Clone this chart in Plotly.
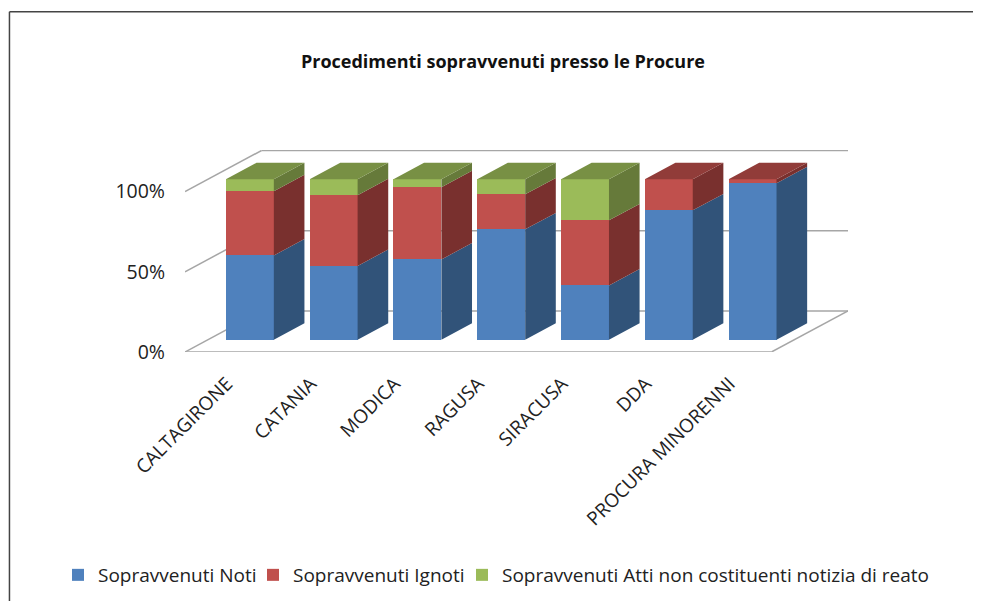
import plotly.graph_objects as go

categories = ["CALTAGIRONE", "CATANIA", "MODICA", "RAGUSA", "SIRACUSA", "DDA", "PROCURA MINORENNI"]
noti = [52.5, 46.0, 50.0, 68.8, 33.8, 80.6, 97.5]
ignoti = [40.0, 44.0, 45.0, 21.8, 40.6, 19.4, 2.5]
atti = [7.5, 10.0, 5.0, 9.4, 25.6, 0.0, 0.0]
series_names = ["Sopravvenuti Noti", "Sopravvenuti Ignoti", "Sopravvenuti Atti non costituenti notizia di reato"]
y_ticks = [0, 50, 100]
y_labels = ["0%", "50%", "100%"]
title = "Procedimenti sopravvenuti presso le Procure"

# The page body adds 8 px on the top and left, so the figure is placed 8 px in.
OFF = 8
W, H = 981 - OFF, 601 - OFF
L, R, T, B = 184.7 - OFF, 848.3 - OFF, 150.0 - OFF, 351.7 - OFF
BAND = 83.86
UNIT = 1.602
DX = 76.6 / BAND
DY = 41.0 / UNIT
T0, T1 = 0.30, 0.70
BW = 48.0 / BAND
FONT = "Open Sans"
TXT = "#222222"
GRID = "#a6a6a6"

front = ["#4F81BD", "#C0504D", "#9BBB59"]
side = ["#315379", "#79302E", "#667A3A"]
topc = ["#3E6797", "#913C39", "#789044"]

series = [noti, ignoti, atti]
legends = ["legend", "legend2", "legend3"]
xmin = -0.5
xmax = xmin + (R - L) / BAND
ymax = (B - T) / UNIT


def proj(x, y, t):
    return x + t * DX, y + t * DY


fig = go.Figure()
cum = [0.0] * len(categories)
for s, vals in enumerate(series):
    bases = [c + T0 * DY for c in cum]
    xf = [i + T0 * DX for i in range(len(categories))]
    fig.add_trace(go.Bar(x=xf, y=vals, base=bases, width=BW, name=series_names[s], legend=legends[s],
                         marker=dict(color=front[s], line=dict(width=0)), hoverinfo="skip"))
    sx, sy = [], []
    for i, v in enumerate(vals):
        if v <= 0:
            continue
        xr = i + BW / 2
        pts = [proj(xr, cum[i], T0), proj(xr, cum[i], T1), proj(xr, cum[i] + v, T1), proj(xr, cum[i] + v, T0)]
        sx += [p[0] for p in pts] + [pts[0][0], None]
        sy += [p[1] for p in pts] + [pts[0][1], None]
    fig.add_trace(go.Scatter(x=sx, y=sy, mode="lines", fill="toself", fillcolor=side[s],
                             line=dict(width=0, color=side[s]), showlegend=False, hoverinfo="skip"))
    cum = [c + v for c, v in zip(cum, vals)]

# top caps: coloured by the last non-empty series in each bar
for s, vals in enumerate(series):
    tx, ty = [], []
    for i in range(len(categories)):
        if vals[i] > 0 and all(series[k][i] <= 0 for k in range(s + 1, len(series))):
            top = cum[i]
            xl, xr = i - BW / 2, i + BW / 2
            pts = [proj(xl, top, T0), proj(xr, top, T0), proj(xr, top, T1), proj(xl, top, T1)]
            tx += [p[0] for p in pts] + [pts[0][0], None]
            ty += [p[1] for p in pts] + [pts[0][1], None]
    if tx:
        fig.add_trace(go.Scatter(x=tx, y=ty, mode="lines", fill="toself", fillcolor=topc[s],
                                 line=dict(width=0, color=topc[s]), showlegend=False, hoverinfo="skip"))

shapes = []
x_front_r = xmin + len(categories)
for v in y_ticks:
    x0, y0 = proj(xmin, v, 1)
    x1, y1 = proj(x_front_r, v, 1)
    shapes.append(dict(type="line", x0=x0, y0=y0, x1=x1, y1=y1))
    shapes.append(dict(type="line", x0=xmin, y0=v, x1=x0, y1=y0))
# floor front and right edges
x1, y1 = proj(x_front_r, 0, 1)
shapes.append(dict(type="line", x0=xmin, y0=0, x1=x_front_r, y1=0))
shapes.append(dict(type="line", x0=x_front_r, y0=0, x1=x1, y1=y1))
for sh in shapes:
    sh.update(xref="x", yref="y", layer="below", line=dict(color=GRID, width=1.5))


# chart frame: only its top and left sides fall inside the picture
def px(v):
    return (v - OFF - L) / (R - L)


def py(v):
    return (B - (v - OFF)) / (B - T)


for x0, y0, x1, y1 in [(9, 12, 981, 12), (9, 12, 9, 601)]:
    shapes.append(dict(type="line", xref="paper", yref="paper", x0=px(x0), x1=px(x1), y0=py(y0), y1=py(y1),
                       line=dict(color="#444444", width=1.5), layer="below"))

leg_font = dict(family=FONT, size=19, color=TXT)
leg_common = dict(orientation="h", xanchor="left", yanchor="middle", xref="container", yref="container",
                  font=leg_font, bgcolor="rgba(0,0,0,0)")
leg_y = 1 - (575 - OFF) / H
LEG_TEXT_X = [98, 293, 502]


def leg_x(text_x):
    return (text_x - OFF - 40) / W


fig.update_layout(
    width=W, height=H, autosize=False,
    margin=dict(l=L, r=W - R, t=T, b=H - B, pad=0),
    paper_bgcolor="white", plot_bgcolor="white",
    barmode="overlay", bargap=0,
    shapes=shapes,
    showlegend=True,
    font=dict(family=FONT, color=TXT),
    title=dict(text=title, x=(503 - OFF) / W, xanchor="center", y=1 - (62 - OFF) / H, yanchor="middle",
               font=dict(family=FONT, size=18, color="#111111", weight="bold")),
    legend=dict(x=leg_x(LEG_TEXT_X[0]), y=leg_y, **leg_common),
    legend2=dict(x=leg_x(LEG_TEXT_X[1]), y=leg_y, **leg_common),
    legend3=dict(x=leg_x(LEG_TEXT_X[2]), y=leg_y, **leg_common),
    xaxis=dict(range=[xmin, xmax], tickmode="array", tickvals=list(range(len(categories))),
               ticktext=categories, tickangle=-45, showgrid=False, zeroline=False, showline=False,
               ticks="", ticklabelstandoff=16, tickfont=dict(family=FONT, size=19, color=TXT)),
    yaxis=dict(range=[0, ymax], tickmode="array", tickvals=y_ticks, ticktext=y_labels,
               showgrid=False, zeroline=False, showline=False, ticks="", ticklabelstandoff=19,
               tickfont=dict(family=FONT, size=19.5, color=TXT)),
)

fig.write_html("out.html")
